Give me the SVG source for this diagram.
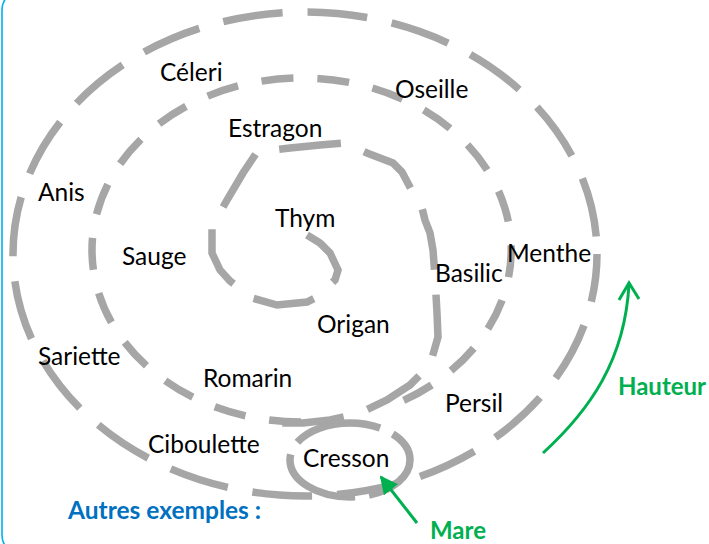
<svg xmlns="http://www.w3.org/2000/svg" width="709" height="544" viewBox="0 0 709 544">
<defs>
<style>
.t{font-family:Lato,"Liberation Sans",sans-serif;font-size:24.5px;fill:#000}
.g{fill:none;stroke:#A6A6A6;stroke-width:7.5}
.grn{fill:#00B050;font-family:Lato,"Liberation Sans",sans-serif;font-weight:bold;font-size:24px}
.blue{fill:#0070C0;font-family:Lato,"Liberation Sans",sans-serif;font-weight:bold;font-size:24.5px}
</style>
<marker id="tri" viewBox="0 0 10 10" refX="9" refY="5" markerWidth="6" markerHeight="6" markerUnits="strokeWidth" orient="auto">
<path d="M0,0 L10,5 L0,10 z" fill="#00B050"/>
</marker>
</defs>
<rect x="2" y="-10" width="800" height="565" rx="20" fill="none" stroke="#00B0F0" stroke-width="1.6"/>
<g id="connectors">
<ellipse id="outer" class="g" cx="305" cy="254" rx="292" ry="242" stroke-dasharray="60 25" stroke-dashoffset="12"/>
<path id="middle" class="g" d="M301,422 A209,172 0 0 1 301,78 A209,172 0 0 1 400,402" stroke-dasharray="32 24"/>
<path id="inner" class="g" stroke-dasharray="62 25" d="M307,235 L320,243 L330,253 L338,270 L335,280 L317,297 L307,302 L277,305 L252,298 L230,281 L220,270 L212,253 L212,227 L227,200 L243,173 L257,152 L290,148 L320,145 L345,143 L367,153 L393,163 L402,172 L413,193 L420,200 L425,220 L430,233 L433,250 L435,277 L437,313 L438,337 L430,365 L410,385 L387,400 L360,413 L330,420 L303,423 L275,423"/>
<ellipse id="mare" class="g" cx="350" cy="460" rx="60" ry="37" stroke-dasharray="88 14" stroke-dashoffset="30"/>
<path id="hauteur-arrow" d="M543,453 C590,410 625,360 629,284" fill="none" stroke="#00B050" stroke-width="3"/>
<path d="M619,300 L629,283 L639,299" fill="none" stroke="#00B050" stroke-width="3"/>
<path id="mare-arrow" d="M417,523 L381,477" fill="none" stroke="#00B050" stroke-width="3" marker-end="url(#tri)"/>
</g>
<g id="celeri"><text class="t" x="160" y="81">Céleri</text></g>
<g id="oseille"><text class="t" x="395" y="98">Oseille</text></g>
<g id="estragon"><text class="t" x="228" y="137">Estragon</text></g>
<g id="anis"><text class="t" x="38" y="201">Anis</text></g>
<g id="thym"><text class="t" x="275" y="227">Thym</text></g>
<g id="sauge"><text class="t" x="122" y="265">Sauge</text></g>
<g id="menthe"><text class="t" x="507" y="262">Menthe</text></g>
<g id="basilic"><text class="t" x="435" y="282">Basilic</text></g>
<g id="origan"><text class="t" x="317" y="333">Origan</text></g>
<g id="sariette"><text class="t" x="38" y="365">Sariette</text></g>
<g id="romarin"><text class="t" x="203" y="387">Romarin</text></g>
<g id="persil"><text class="t" x="445" y="412">Persil</text></g>
<g id="ciboulette"><text class="t" x="148" y="453">Ciboulette</text></g>
<g id="cresson"><text class="t" x="303" y="467">Cresson</text></g>
<g id="hauteur"><text class="grn" x="618" y="395">Hauteur</text></g>
<g id="mare-label"><text class="grn" x="430" y="539">Mare</text></g>
<g id="autres"><text class="blue" x="68" y="519">Autres exemples :</text></g>
</svg>
